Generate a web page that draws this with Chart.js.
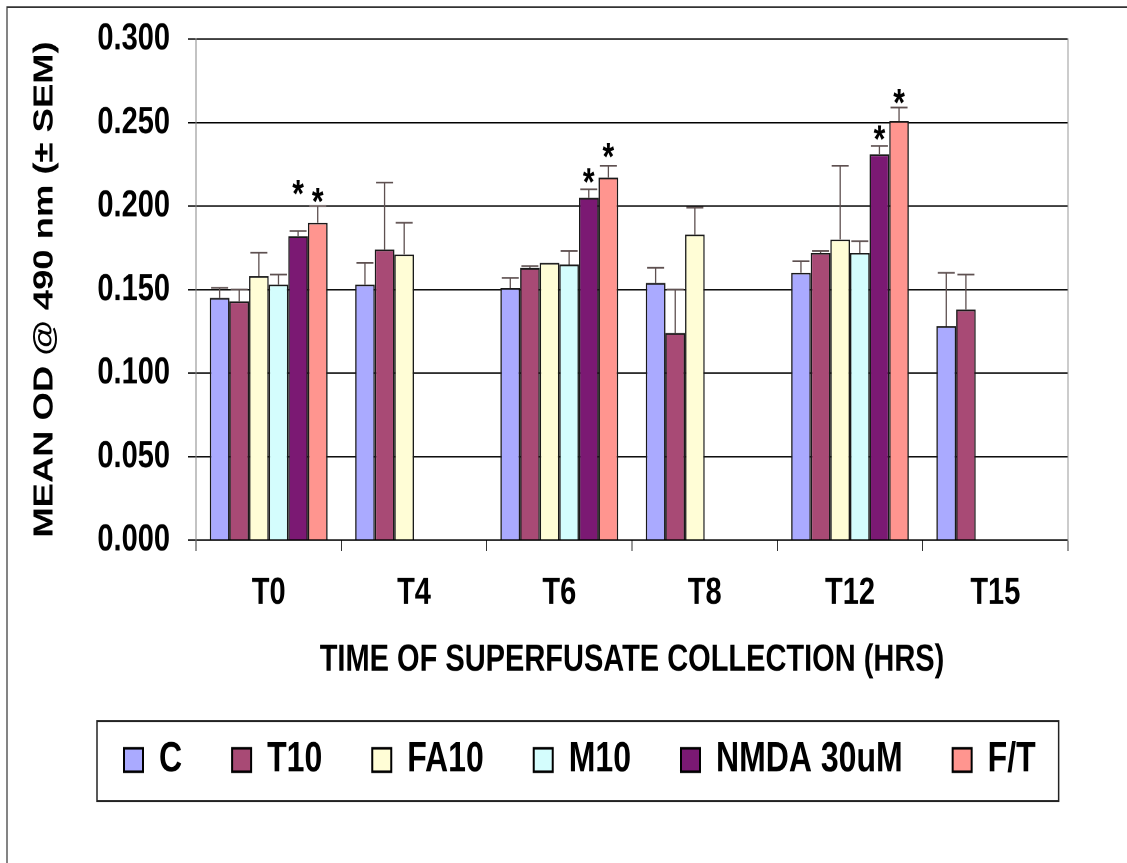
<!DOCTYPE html>
<html>
<head>
<meta charset="utf-8">
<script src="https://cdn.jsdelivr.net/npm/chart.js@4.4.1/dist/chart.umd.min.js"></script>
<style>
  html { margin: 0; padding: 0; overflow: hidden; background: #fff; }
  body { margin: 0; padding: 0; width: 1127px; height: 863px; background: #fff; }
  /* o grafico original esta esticado na vertical */
  #wrap { width: 1127px; height: 664px; transform: scaleY(1.2997); transform-origin: 0 0; }
</style>
</head>
<body>
<div id="wrap"><canvas id="odChart" width="1127" height="664"></canvas></div>
<script>
// Dados
const categorias = ['T0', 'T4', 'T6', 'T8', 'T12', 'T15'];
const nomes = ['C', 'T10', 'FA10', 'M10', 'NMDA 30uM', 'F/T'];

const valC    = [0.145, 0.153, 0.151, 0.154, 0.160, 0.128];
const valT10  = [0.143, 0.174, 0.163, 0.124, 0.172, 0.138];
const valFA10 = [0.158, 0.171, 0.166, 0.183, 0.180, null];
const valM10  = [0.153, null, 0.165, null, 0.172, null];
const valNMDA = [0.182, null, 0.205, null, 0.231, null];
const valFT   = [0.190, null, 0.217, null, 0.251, null];

// SEM (so para cima)
const errC    = [0.006, 0.013, 0.006, 0.009, 0.007, 0.032];
const errT10  = [0.007, 0.040, 0.001, 0.026, 0.001, 0.021];
const errFA10 = [0.014, 0.019, 0, 0.016, 0.044, null];
const errM10  = [0.006, null, 0.008, null, 0.007, null];
const errNMDA = [0.003, null, 0.005, null, 0.005, null];
const errFT   = [0.010, null, 0.007, null, 0.008, null];

// altura dos asteriscos (significancia)
const starNMDA = [0.213, null, 0.220, null, 0.2455, null];
const starFT   = [0.208, null, 0.235, null, 0.2675, null];

const yMin = 0, yMax = 0.3, yStep = 0.05;

const cores = ['#AAAAFF', '#A84A75', '#FFFDD6', '#D4FDFD', '#7B1973', '#FF958F'];
const valores = [valC, valT10, valFA10, valM10, valNMDA, valFT];
const erros = [errC, errT10, errFA10, errM10, errNMDA, errFT];
const estrelas = [null, null, null, null, starNMDA, starFT];

const fonte = "'Liberation Sans', Arial, sans-serif";

// Plugin: moldura, caixa da legenda, barras de erro e asteriscos
const extras = {
  id: 'extras',
  beforeDraw(chart) {
    const ctx = chart.ctx;
    ctx.save();
    ctx.fillStyle = '#fff';
    ctx.fillRect(0, 0, chart.width, chart.height);
    ctx.strokeStyle = '#333';
    ctx.lineWidth = 1.2;
    ctx.beginPath();
    ctx.moveTo(7, chart.height);
    ctx.lineTo(7, 5.4);
    ctx.lineTo(chart.width, 5.4);
    ctx.stroke();
    ctx.restore();
  },
  afterDatasetsDraw(chart) {
    const ctx = chart.ctx;
    const y = chart.scales.y;
    ctx.save();
    chart.data.datasets.forEach((ds, i) => {
      const meta = chart.getDatasetMeta(i);
      meta.data.forEach((bar, j) => {
        const v = ds.data[j];
        const e = ds.erros[j];
        if (v == null) return;
        if (e) {
          const yTop = y.getPixelForValue(v + e);
          ctx.strokeStyle = '#5e5050';
          ctx.lineWidth = 1.3;
          ctx.beginPath();
          ctx.moveTo(bar.x, bar.y);
          ctx.lineTo(bar.x, yTop);
          ctx.moveTo(bar.x - 8.5, yTop);
          ctx.lineTo(bar.x + 8.5, yTop);
          ctx.stroke();
        }
        if (ds.estrelas && ds.estrelas[j] != null) {
          ctx.fillStyle = '#000';
          ctx.font = 'bold 30px ' + fonte;
          ctx.textAlign = 'center';
          ctx.textBaseline = 'alphabetic';
          ctx.fillText('*', bar.x, y.getPixelForValue(ds.estrelas[j]) + 17);
        }
      });
    });
    ctx.restore();
  },
  afterDraw(chart) {
    const hb = chart.legend.legendHitBoxes;
    if (!hb || !hb.length) return;
    const first = hb[0], last = hb[hb.length - 1];
    const cy = first.top + first.height / 2;
    const ctx = chart.ctx;
    ctx.save();
    ctx.strokeStyle = '#222';
    ctx.lineWidth = 1.5;
    ctx.strokeRect(first.left - 27, cy - 30, last.left + last.width + 23 - (first.left - 27), 61.5);
    ctx.restore();
  }
};

const ctx = document.getElementById('odChart').getContext('2d');
const odChart = new Chart(ctx, {
  type: 'bar',
  data: {
    labels: categorias,
    datasets: nomes.map((n, i) => ({
      label: n,
      data: valores[i],
      erros: erros[i],
      estrelas: estrelas[i],
      backgroundColor: cores[i],
      borderColor: '#1a1a1a',
      borderWidth: 1.4,
      categoryPercentage: 0.81,
      barPercentage: 1.0
    }))
  },
  options: {
    responsive: false,
    animation: false,
    devicePixelRatio: 2,
    layout: { padding: { left: 74, right: 20, top: 30, bottom: 53.2 } },
    plugins: {
      tooltip: { enabled: false },
      legend: {
        position: 'bottom',
        align: 'start',
        labels: {
          color: '#000',
          font: { family: fonte, size: 32, weight: 'bold' },
          boxWidth: 19,
          boxHeight: 18,
          padding: 50,
          generateLabels(chart) {
            const itens = Chart.defaults.plugins.legend.labels.generateLabels(chart);
            itens.forEach(it => { it.lineWidth = 2; it.strokeStyle = '#000'; });
            return itens;
          }
        }
      }
    },
    scales: {
      x: {
        grid: { display: true, drawOnChartArea: false, drawTicks: true, tickLength: 8.5, color: '#333', offset: true },
        border: { display: true, color: '#000', width: 1 },
        ticks: { color: '#000', padding: 15, font: { family: fonte, size: 29, weight: 'bold' } },
        title: {
          display: true,
          text: 'TIME OF SUPERFUSATE COLLECTION (HRS)',
          color: '#000',
          font: { family: fonte, size: 29, weight: 'bold' },
          padding: { top: 0, bottom: -6.4 }
        },
        afterFit(scale) { scale.height = 103.3; }
      },
      y: {
        min: yMin,
        max: yMax,
        grid: { color: '#000', lineWidth: 1, drawTicks: true, tickLength: 8 },
        border: { display: true, color: '#888', width: 1 },
        ticks: {
          stepSize: yStep,
          color: '#000',
          padding: 18,
          font: { family: fonte, size: 29, weight: 'bold', lineHeight: 0.8 },
          callback: v => v.toFixed(3)
        },
        title: {
          display: true,
          text: 'MEAN OD @ 490 nm (± SEM)',
          color: '#000',
          font: { family: fonte, size: 28, weight: 'bold' },
          padding: { top: -45.8, bottom: 0 }
        },
        afterFit(scale) { scale.width = 122; }
      },
      yR: {
        position: 'right',
        min: yMin,
        max: yMax,
        grid: { display: false },
        ticks: { display: false },
        border: { display: true, color: '#999', width: 1 },
        afterFit(scale) { scale.width = 39; }
      }
    }
  },
  plugins: [extras]
});
</script>
</body>
</html>
